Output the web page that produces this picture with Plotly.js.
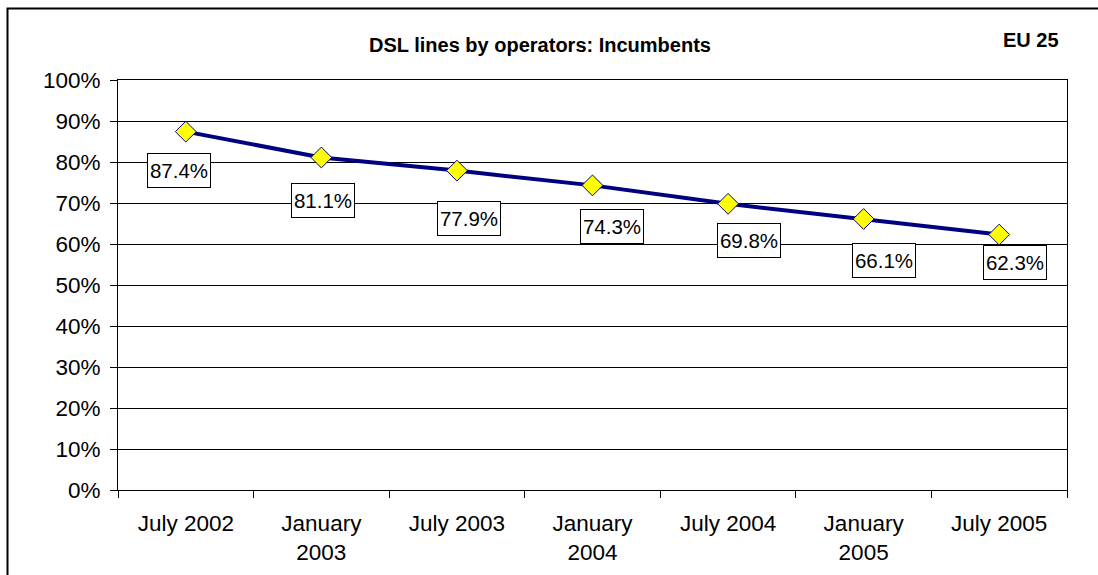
<!DOCTYPE html>
<html>
<head>
<meta charset="utf-8">
<script src="https://cdn.plot.ly/plotly-3.0.1.min.js"></script>
<style>
html,body{margin:0;padding:0;background:#fff;}
#chart{width:1098px;height:575px;}
</style>
</head>
<body>
<div id="chart"></div>
<script>
// Data
var categories = ["July 2002", "January<br>2003", "July 2003", "January<br>2004", "July 2004", "January<br>2005", "July 2005"];
var shareIncumbents = [87.4, 81.1, 77.9, 74.3, 69.8, 66.1, 62.3];
var valueLabels = ["87.4%", "81.1%", "77.9%", "74.3%", "69.8%", "66.1%", "62.3%"];

// Label box offsets (pixels) relative to each point
var labelDx = [-7, 2, 12, 19, 21, 20, 16];
var labelDy = [-39, -43, -48, -41, -37, -42, -28];

var FONT = "Arial, 'Liberation Sans', sans-serif";
var W = 1098, H = 575;
var mL = 118, mR = 31, mT = 80, mB = 85;
var pw = W - mL - mR, ph = H - mT - mB;
function px2x(p){ return (p - mL) / pw; }
function py2y(p){ return (H - mB - p) / ph; }

var trace = {
  type: "scatter",
  mode: "lines+markers",
  x: categories.map(function(c, i){ return i; }),
  y: shareIncumbents,
  line: {color: "#000080", width: 4},
  marker: {symbol: "diamond", size: 16, color: "#FFFF00", line: {color: "#000080", width: 1}},
  hoverinfo: "skip",
  cliponaxis: false
};

var annotations = shareIncumbents.map(function(v, i){
  return {
    x: i, y: v, xref: "x", yref: "y",
    text: valueLabels[i], showarrow: false,
    xshift: labelDx[i], yshift: labelDy[i],
    width: 58, height: 29, align: "center", valign: "middle",
    font: {family: FONT, size: 20.5, color: "#000"},
    bgcolor: "#fff", bordercolor: "#000", borderwidth: 1, borderpad: 2
  };
});
annotations.push({
  xref: "paper", yref: "paper", x: px2x(1061), y: py2y(40),
  xanchor: "right", yanchor: "middle", showarrow: false,
  text: "<b>EU 25</b>", font: {family: FONT, size: 20, color: "#000"}
});

var layout = {
  width: W, height: H,
  margin: {l: mL, r: mR, t: mT, b: mB, pad: 0},
  paper_bgcolor: "#fff", plot_bgcolor: "#fff",
  showlegend: false,
  title: {
    text: "<b>DSL lines by operators: Incumbents</b>",
    font: {family: FONT, size: 20, color: "#000"},
    x: 540 / W, y: 1 - 45 / H, xanchor: "center", yanchor: "middle"
  },
  xaxis: {
    type: "linear",
    range: [-0.5, 6.5],
    tickmode: "array",
    tickvals: categories.map(function(c, i){ return i; }),
    ticktext: categories,
    ticks: "", showgrid: false, zeroline: false,
    ticklabelstandoff: 13,
    showline: true, linecolor: "#000", linewidth: 1, mirror: true,
    tickfont: {family: FONT, size: 22.5, color: "#000"},
    fixedrange: true
  },
  xaxis2: {
    overlaying: "x", anchor: "y", side: "bottom",
    range: [-0.5, 6.5], tickmode: "linear", tick0: -0.5, dtick: 1,
    ticks: "outside", ticklen: 7, tickcolor: "#000", tickwidth: 1,
    showticklabels: false, showgrid: false, zeroline: false, showline: false,
    fixedrange: true
  },
  yaxis: {
    range: [0, 100], tickmode: "linear", tick0: 0, dtick: 10,
    ticksuffix: "%",
    ticks: "outside", ticklen: 7, tickcolor: "#000", tickwidth: 1,
    ticklabelstandoff: 5,
    showgrid: true, gridcolor: "#000", gridwidth: 1,
    zeroline: false,
    showline: true, linecolor: "#000", linewidth: 1, mirror: true,
    tickfont: {family: FONT, size: 22.5, color: "#000"},
    fixedrange: true
  },
  shapes: [{
    type: "rect", xref: "paper", yref: "paper",
    x0: px2x(7.5), x1: px2x(1120), y0: py2y(620), y1: py2y(8.5),
    line: {color: "#000", width: 2}, layer: "below"
  }],
  annotations: annotations
};

var dummy = {type: "scatter", x: [-0.5, 6.5], y: [0, 0], xaxis: "x2", yaxis: "y", mode: "none", hoverinfo: "skip", showlegend: false};

Plotly.newPlot("chart", [dummy, trace], layout, {displayModeBar: false, staticPlot: true});
</script>
</body>
</html>
